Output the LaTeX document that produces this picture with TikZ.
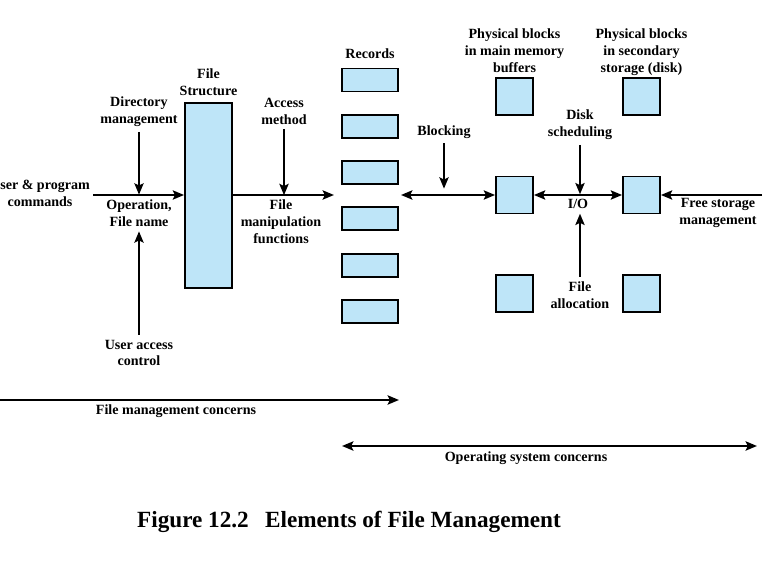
\documentclass[tikz,border=0pt]{standalone}
\usepackage{fontspec}
\setmainfont{Liberation Serif}
\usetikzlibrary{arrows.meta, positioning}
\definecolor{boxblue}{RGB}{190,229,248}

\begin{document}
\begin{tikzpicture}[x=0.025cm,y=-0.025cm,>={Stealth[length=8pt,width=6.5pt,inset=1.5pt]},
        font=\bfseries\fontsize{10}{12}\selectfont,
        every node/.style={align=center},
        blockbox/.style={draw,line width=1.3pt,fill=boxblue,inner sep=0pt},
        record/.style={blockbox,minimum width=1.4cm,minimum height=0.575cm},
        phys/.style={blockbox,minimum size=0.925cm},
        arr/.style={->,line width=2pt},
        dbl/.style={<->,line width=2pt}]
    \useasboundingbox (0,0) rectangle (772,563);

      % file structure and its inputs
      \node[blockbox,minimum width=1.175cm,minimum height=4.625cm] (fs) at (208.5,195.5) {};
      \node[above=1pt of fs] (fslbl) {File\\Structure};
      \node (user) at (40,193) {User \& program\\commands};
      \node (dir)  at (139,112) {Directory\\management};
      \node (op)   at (139,213) {Operation,\\File name};
      \node (uac)  at (139,353) {User access\\control};
      \node (acc)  at (284,111) {Access\\method};
      \node (fmf)  at (281,222) {File\\manipulation\\functions};

      % records
      \foreach \i in {1,...,6}
        \node[record] (r\i) at (370,{80+46.3*(\i-1)}) {};
      \node[above=3pt of r1] (rec) {Records};

      % physical blocks
      \foreach \n/\y in {1/96.5,2/195,3/293.5} {
        \node[phys] (m\n) at (514.5,\y) {};
        \node[phys] (s\n) at (641.5,\y) {};
      }
      \node[above=-0.5pt of m1] (mmlbl) {Physical blocks\\in main memory\\buffers};
      \node[above=-2.5pt of s1] (seclbl) {Physical blocks\\in secondary\\storage (disk)};
      \node (blk)   at (444,132) {Blocking};
      \node (disk)  at (580,125) {Disk\\scheduling};
      \node (io)    at (578,204) {I/O};
      \node (alloc) at (580,295) {File\\allocation};
      \node (free)  at (718,213) {Free storage\\management};

      \coordinate (cin)   at (93,195);
      \coordinate (cout)  at (334,195);
      \coordinate (crec)  at (401,195);
      \coordinate (cblk)  at (444,195);
      \coordinate (cfree) at (762,195);

      \draw[arr] (cin) -- (cin -| fs.west);
      \draw[arr] (fs.east |- cout) -- (cout);
      \draw[arr] (dir.south) -- (dir.south |- op.north);
      \draw[arr] (uac.north) -- (uac.north |- op.south);
      \draw[arr] (acc.south) -- (acc.south |- fmf.north);
      \draw[arr,shorten >=4.5pt] (blk.south) -- (cblk);
      \draw[dbl] (crec) -- (crec -| m2.west);
      \draw[dbl] (m2) -- (s2);
      \draw[arr] (disk.south) -- (disk.south |- io.north);
      \draw[arr] (alloc.north) -- (alloc.north |- io.south);
      \draw[arr] (cfree) -- (cfree -| s2.east);

      % concerns
      \coordinate (fmL) at (-12,400);
      \coordinate (fmR) at (399,400);
      \coordinate (osL) at (342,446);
      \coordinate (osR) at (757,446);
      \draw[dbl] (fmL) -- (fmR);
      \draw[dbl] (osL) -- (osR);
      \node (fmc) at (176,411) {File management concerns};
      \node (osc) at (526,458) {Operating system concerns};

      \node[font=\bfseries\fontsize{16.5}{20}\selectfont] (cap) at (349,522)
        {Figure 12.2\hspace{0.7em}Elements of File Management};
    \end{tikzpicture}
\end{document}
